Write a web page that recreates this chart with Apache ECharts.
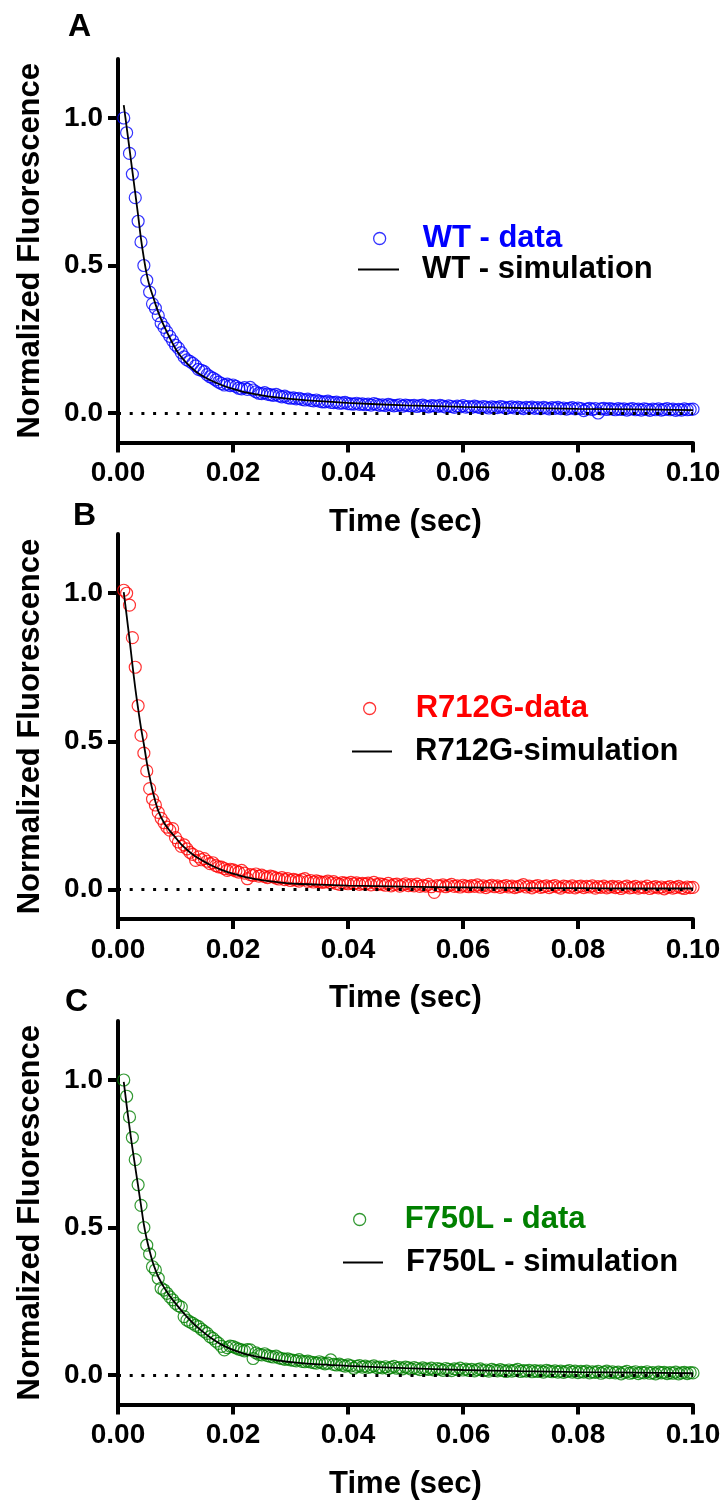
<!DOCTYPE html>
<html>
<head>
<meta charset="utf-8">
<script src="https://cdn.jsdelivr.net/npm/echarts@6/dist/echarts.min.js"></script>
<style>
html, body { margin: 0; padding: 0; background: #fff; }
#chart { width: 725px; height: 1501px; }
</style>
</head>
<body>
<div id="chart"></div>
<script>
// sampling grid of the stopped-flow traces (sec)
var T0 = 0.001, DT = 0.0005;

// WT - data, one value per sample
var wtData = [
  1.00, 0.95, 0.88, 0.81, 0.73, 0.65, 0.58, 0.50, 0.45, 0.41,
  0.37, 0.355, 0.33, 0.305, 0.29, 0.275, 0.26, 0.245, 0.23, 0.22,
  0.205, 0.19, 0.18, 0.175, 0.168, 0.16, 0.148, 0.145, 0.14, 0.13,
  0.123, 0.118, 0.112, 0.105, 0.10, 0.095, 0.098, 0.093, 0.095, 0.09,
  0.084, 0.082, 0.086, 0.08, 0.087, 0.078, 0.072, 0.067, 0.066, 0.069,
  0.064, 0.062, 0.06, 0.063, 0.058, 0.055, 0.057, 0.052, 0.05, 0.051,
  0.048, 0.05, 0.046, 0.044, 0.047, 0.043, 0.041, 0.044, 0.04, 0.038,
  0.038, 0.04, 0.036, 0.035, 0.037, 0.033, 0.034, 0.036, 0.032, 0.031,
  0.03, 0.033, 0.029, 0.031, 0.028, 0.03, 0.027, 0.032, 0.029, 0.026,
  0.028, 0.025, 0.029, 0.027, 0.024, 0.026, 0.028, 0.023, 0.027, 0.025,
  0.024, 0.026, 0.022, 0.025, 0.027, 0.023, 0.021, 0.025, 0.024, 0.022,
  0.026, 0.023, 0.02, 0.024, 0.022, 0.019, 0.023, 0.021, 0.025, 0.02,
  0.022, 0.019, 0.023, 0.021, 0.018, 0.022, 0.02, 0.017, 0.021, 0.019,
  0.018, 0.022, 0.02, 0.016, 0.019, 0.021, 0.017, 0.02, 0.018, 0.015,
  0.019, 0.017, 0.02, 0.016, 0.018, 0.015, 0.019, 0.017, 0.014, 0.018,
  0.016, 0.019, 0.015, 0.017, 0.013, 0.016, 0.018, 0.014, 0.017, 0.015,
  0.008, 0.013, 0.016, 0.012, 0.015, 0.0, 0.014, 0.016, 0.012, 0.015,
  0.013, 0.011, 0.015, 0.012, 0.014, 0.01, 0.013, 0.015, 0.011, 0.013,
  0.01, 0.014, 0.012, 0.009, 0.013, 0.011, 0.014, 0.01, 0.012, 0.015,
  0.011, 0.013, 0.009, 0.012, 0.01, 0.014, 0.011, 0.012, 0.013
];

// R712G-data
var r712gData = [
  1.01, 1.00, 0.96, 0.85, 0.75, 0.62, 0.52, 0.46, 0.40, 0.34,
  0.305, 0.285, 0.26, 0.24, 0.225, 0.21, 0.20, 0.205, 0.175, 0.16,
  0.145, 0.15, 0.137, 0.125, 0.118, 0.098, 0.11, 0.10, 0.104, 0.095,
  0.087, 0.09, 0.08, 0.076, 0.075, 0.07, 0.064, 0.068, 0.066, 0.062,
  0.058, 0.064, 0.055, 0.036, 0.05, 0.047, 0.052, 0.045, 0.048, 0.043,
  0.04, 0.045, 0.042, 0.038, 0.035, 0.04, 0.033, 0.036, 0.03, 0.034,
  0.031, 0.028, 0.033, 0.036, 0.027, 0.03, 0.025, 0.029, 0.026, 0.024,
  0.025, 0.028, 0.022, 0.026, 0.02, 0.017, 0.023, 0.021, 0.019, 0.024,
  0.019, 0.022, 0.017, 0.02, 0.018, 0.021, 0.015, 0.024, 0.016, 0.019,
  0.017, 0.014, 0.02, 0.012, 0.016, 0.018, 0.011, 0.015, 0.019, 0.013,
  0.016, 0.012, 0.018, 0.01, 0.014, 0.011, 0.017, 0.009, -0.01, 0.013,
  0.011, 0.015, 0.009, 0.013, 0.017, 0.01, 0.012, 0.008, 0.014, 0.011,
  0.009, 0.013, 0.01, 0.015, 0.008, 0.012, 0.006, 0.011, 0.014, 0.009,
  0.012, 0.007, 0.01, 0.013, 0.008, 0.011, 0.006, 0.009, 0.012, 0.016,
  0.008, 0.011, 0.005, 0.01, 0.013, 0.007, 0.009, 0.012, 0.006, 0.01,
  0.013, 0.008, 0.004, 0.011, 0.009, 0.007, 0.012, 0.005, 0.009, 0.011,
  0.006, 0.01, 0.008, 0.012, 0.004, 0.009, 0.007, 0.011, 0.005, 0.008,
  0.01, 0.006, 0.009, 0.003, 0.008, 0.011, 0.005, 0.007, 0.01, 0.004,
  0.008, 0.006, 0.011, 0.003, 0.007, 0.009, 0.005, 0.008, 0.002, 0.007,
  0.009, 0.004, 0.007, 0.01, 0.005, 0.003, 0.008, 0.006, 0.007
];

// F750L - data
var f750lData = [
  1.00, 0.945, 0.875, 0.805, 0.73, 0.645, 0.575, 0.50, 0.44, 0.41,
  0.367, 0.356, 0.328, 0.294, 0.288, 0.277, 0.265, 0.255, 0.243, 0.235,
  0.23, 0.198, 0.186, 0.18, 0.175, 0.168, 0.164, 0.155, 0.148, 0.141,
  0.13, 0.124, 0.115, 0.107, 0.097, 0.085, 0.093, 0.098, 0.096, 0.092,
  0.088, 0.085, 0.082, 0.086, 0.085, 0.056, 0.075, 0.07, 0.068, 0.072,
  0.066, 0.063, 0.061, 0.064, 0.058, 0.056, 0.053, 0.055, 0.051, 0.05,
  0.048, 0.052, 0.046, 0.045, 0.047, 0.044, 0.042, 0.04, 0.045, 0.041,
  0.038, 0.04, 0.051, 0.036, 0.034, 0.037, 0.033, 0.03, 0.034, 0.031,
  0.023, 0.029, 0.032, 0.027, 0.03, 0.026, 0.028, 0.031, 0.025, 0.027,
  0.024, 0.028, 0.022, 0.026, 0.029, 0.023, 0.025, 0.021, 0.027, 0.024,
  0.02, 0.025, 0.022, 0.018, 0.024, 0.021, 0.019, 0.023, 0.017, 0.022,
  0.02, 0.016, 0.022, 0.019, 0.015, 0.021, 0.018, 0.023, 0.017, 0.02,
  0.016, 0.019, 0.014, 0.018, 0.021, 0.015, 0.017, 0.013, 0.019, 0.016,
  0.014, 0.018, 0.015, 0.012, 0.017, 0.013, 0.016, 0.019, 0.012, 0.015,
  0.013, 0.016, 0.011, 0.015, 0.012, 0.014, 0.01, 0.016, 0.013, 0.011,
  0.014, 0.01, 0.013, 0.009, 0.012, 0.015, 0.01, 0.013, 0.008, 0.012,
  0.01, 0.013, 0.007, 0.011, 0.009, 0.012, 0.006, 0.01, 0.013, 0.008,
  0.011, 0.007, 0.01, 0.004, 0.009, 0.012, 0.006, 0.008, 0.011, 0.005,
  0.009, 0.007, 0.011, 0.006, 0.008, 0.004, 0.01, 0.007, 0.009, 0.005,
  0.008, 0.006, 0.01, 0.004, 0.007, 0.009, 0.005, 0.008, 0.007
];

// simulation curves, read at these times
var simTimes = [0.001, 0.0015, 0.002, 0.0025, 0.003, 0.0035, 0.004, 0.0045, 0.005, 0.0055,
  0.006, 0.0065, 0.007, 0.008, 0.009, 0.010, 0.011, 0.012, 0.013, 0.014,
  0.016, 0.018, 0.020, 0.022, 0.025, 0.028, 0.031, 0.035, 0.040, 0.050,
  0.060, 0.070, 0.080, 0.090, 0.100];
var wtSim = [1.044, 0.97, 0.895, 0.82, 0.745, 0.67, 0.59, 0.525, 0.47, 0.43,
  0.40, 0.37, 0.342, 0.295, 0.255, 0.218, 0.19, 0.168, 0.149, 0.134,
  0.112, 0.095, 0.082, 0.071, 0.06, 0.052, 0.046, 0.04, 0.034, 0.026,
  0.021, 0.017, 0.014, 0.012, 0.010];
var r712gSim = [1.004, 0.925, 0.845, 0.76, 0.68, 0.61, 0.545, 0.49, 0.43, 0.38,
  0.335, 0.297, 0.265, 0.225, 0.198, 0.175, 0.152, 0.134, 0.118, 0.105,
  0.083, 0.066, 0.053, 0.042, 0.031, 0.024, 0.019, 0.016, 0.013, 0.009,
  0.007, 0.005, 0.004, 0.003, 0.003];
var f750lSim = [0.994, 0.915, 0.84, 0.77, 0.705, 0.64, 0.575, 0.51, 0.46, 0.42,
  0.385, 0.357, 0.333, 0.297, 0.268, 0.243, 0.219, 0.197, 0.177, 0.159,
  0.128, 0.103, 0.085, 0.072, 0.059, 0.049, 0.042, 0.036, 0.031, 0.023,
  0.017, 0.013, 0.010, 0.008, 0.006];

var yTicks = [0, 0.5, 1.0];

var FONT = "'Liberation Sans', Arial, sans-serif";
var LINE_ICON = 'path://M0,0H40V2H0Z';

var panels = [
  { letter: 'A', letterPos: [68, 11], top: 59, height: 383.5, data: wtData, sim: wtSim, color: '#0000ff',
    dataName: 'WT - data', simName: 'WT - simulation',
    dot: [373, 239, 32], line: [358, 270, 41, 18] },
  { letter: 'B', letterPos: [73, 500], top: 534, height: 385, data: r712gData, sim: r712gSim, color: '#ff0000',
    dataName: 'R712G-data', simName: 'R712G-simulation',
    dot: [363, 709, 35], line: [352, 752, 40, 18] },
  { letter: 'C', letterPos: [65, 986], top: 1021, height: 383.5, data: f750lData, sim: f750lSim, color: '#008000',
    dataName: 'F750L - data', simName: 'F750L - simulation',
    dot: [353, 1220, 34], line: [343, 1263, 40, 18] }
];

function toPairs(values) {
  return values.map(function (v, i) { return [T0 + DT * i, v]; });
}

var chart = echarts.init(document.getElementById('chart'));

var option = {
  animation: false,
  backgroundColor: '#fff',
  title: [],
  legend: [],
  grid: [],
  xAxis: [],
  yAxis: [],
  series: []
};

panels.forEach(function (p, i) {
  option.title.push({
    text: p.letter, left: p.letterPos[0], top: p.letterPos[1], padding: 0,
    textStyle: { fontFamily: FONT, fontSize: 32, fontWeight: 'bold', color: '#000' }
  });

  // data legend (open circle)
  option.legend.push({
    data: [{ name: p.dataName, icon: 'circle' }],
    left: p.dot[0], top: p.dot[1] - 16, padding: 0,
    itemWidth: 12, itemHeight: 12, selectedMode: false,
    itemStyle: { color: 'transparent', borderColor: p.color, borderWidth: 1.3 },
    textStyle: { fontFamily: FONT, fontSize: 31, fontWeight: 'bold', color: p.color, padding: [0, 0, 0, p.dot[2]] }
  });
  // simulation legend (plain line)
  option.legend.push({
    data: [{ name: p.simName, icon: LINE_ICON }],
    left: p.line[0], top: p.line[1] - 16, padding: 0,
    itemWidth: p.line[2], itemHeight: 14, selectedMode: false,
    itemStyle: { color: '#000', borderWidth: 0 },
    textStyle: { fontFamily: FONT, fontSize: 31, fontWeight: 'bold', color: '#000', padding: [0, 0, 0, p.line[3]] }
  });

  option.grid.push({ left: 118, width: 575, top: p.top, height: p.height });

  option.xAxis.push({
    type: 'value', gridIndex: i, min: 0, max: 0.1, interval: 0.02,
    name: 'Time (sec)', nameLocation: 'middle', nameGap: 64,
    nameTextStyle: { fontFamily: FONT, fontSize: 31, fontWeight: 'bold', color: '#000' },
    axisLine: { onZero: false, lineStyle: { color: '#000', width: 4 } },
    axisTick: { length: 10, lineStyle: { color: '#000', width: 4 } },
    axisLabel: {
      margin: 17, fontFamily: FONT, fontSize: 28, fontWeight: 'bold', color: '#000',
      formatter: function (v) { return v.toFixed(2); }
    },
    splitLine: { show: false }
  });

  option.yAxis.push({
    type: 'value', gridIndex: i, min: -0.1, max: 1.2,
    name: 'Normalized Fluorescence', nameLocation: 'middle', nameGap: 72, nameRotate: 90,
    nameTextStyle: { fontFamily: FONT, fontSize: 31, fontWeight: 'bold', color: '#000' },
    axisLine: { show: true, onZero: false, lineStyle: { color: '#000', width: 4 } },
    axisTick: { show: true, length: 10, customValues: yTicks, lineStyle: { color: '#000', width: 4 } },
    axisLabel: {
      margin: 15, customValues: yTicks, fontFamily: FONT, fontSize: 28, fontWeight: 'bold', color: '#000',
      formatter: function (v) { return v.toFixed(1); }
    },
    splitLine: { show: false }
  });

  option.series.push({
    type: 'scatter', name: p.dataName, xAxisIndex: i, yAxisIndex: i,
    data: toPairs(p.data),
    symbol: 'circle', symbolSize: 12,
    itemStyle: { color: 'transparent', borderColor: p.color, borderWidth: 1.2 },
    emphasis: { disabled: true },
    markLine: {
      silent: true, symbol: 'none', label: { show: false },
      lineStyle: { color: '#000', type: [3, 8.7], width: 3, cap: 'butt' },
      data: [{ yAxis: 0 }]
    }
  });

  option.series.push({
    type: 'line', name: p.simName, xAxisIndex: i, yAxisIndex: i,
    data: simTimes.map(function (t, k) { return [t, p.sim[k]]; }),
    showSymbol: false, symbol: 'none', smooth: 0.3,
    itemStyle: { color: '#000' },
    lineStyle: { color: '#000', width: 1.8 },
    emphasis: { disabled: true },
    z: 3
  });
});

chart.setOption(option);
</script>
</body>
</html>
